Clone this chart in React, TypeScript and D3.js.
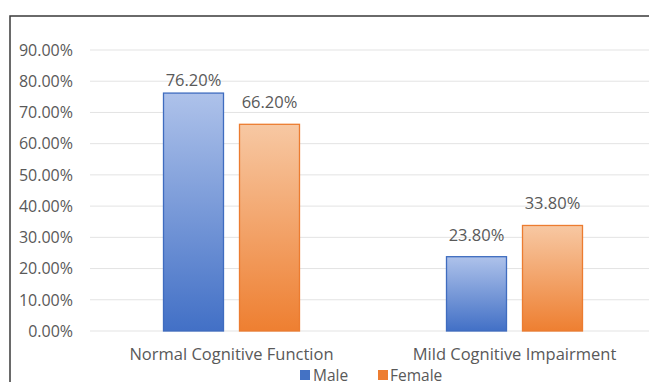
import React from "react";
import * as d3 from "d3";

const categories = ["Normal Cognitive Function", "Mild Cognitive Impairment"];
const seriesNames = ["Male", "Female"];
const maleValues = [76.2, 23.8];
const femaleValues = [66.2, 33.8];
const yTicks = [0, 10, 20, 30, 40, 50, 60, 70, 80, 90];

const W = 649;
const H = 382;
const FONT = "'Open Sans', 'Noto Sans', sans-serif";
const TEXT = "#595959";

export default function App() {
  const x0 = d3.scaleBand<string>().domain(categories).range([90, 656]).paddingInner(0).paddingOuter(0);
  const y = d3.scaleLinear().domain([0, 90]).range([331, 50]);
  const barW = 60;
  const gap = 16;
  const series = [
    { name: seriesNames[0], values: maleValues, grad: "gMale", stroke: "#3f6cbf", legend: "#4472c4" },
    { name: seriesNames[1], values: femaleValues, grad: "gFemale", stroke: "#ec7c30", legend: "#ed7d31" },
  ];
  const fmt = (v: number) => v.toFixed(2) + "%";
  return (
    <svg width={W} height={H} style={{ position: "absolute", left: 0, top: 0, background: "#fff" }}>
      <defs>
        <linearGradient id="gMale" x1="0" y1="0" x2="0" y2="1">
          <stop offset="0" stopColor="#aec2ea" />
          <stop offset="1" stopColor="#4270c6" />
        </linearGradient>
        <linearGradient id="gFemale" x1="0" y1="0" x2="0" y2="1">
          <stop offset="0" stopColor="#f7c8a3" />
          <stop offset="1" stopColor="#ee7f31" />
        </linearGradient>
      </defs>
      <rect x={10} y={16} width={W} height={H} fill="#fff" stroke="#3a3a3a" strokeWidth={1.5} />
      {yTicks.map((t) => (
        <g key={t}>
          <line x1={90} x2={W} y1={y(t)} y2={y(t)} stroke="#e3e3e3" strokeWidth={1} />
          <text x={73} y={y(t)} dy="0.36em" textAnchor="end" fontFamily={FONT} fontSize={16} fill={TEXT}>
            {fmt(t)}
          </text>
        </g>
      ))}
      {categories.map((c, i) => {
        const cx = (x0(c) as number) + x0.bandwidth() / 2;
        return (
          <g key={c}>
            {series.map((s, j) => {
              const bx = j === 0 ? cx - gap / 2 - barW : cx + gap / 2;
              const v = s.values[i];
              const top = y(v);
              const labelY = Math.max(top - 16, 86);
              return (
                <g key={s.name}>
                  <rect x={bx} y={top} width={barW} height={y(0) - top} fill={`url(#${s.grad})`} stroke={s.stroke} strokeWidth={1.3} />
                  <text x={bx + barW / 2} y={labelY} textAnchor="middle" fontFamily={FONT} fontSize={16.5} fill={TEXT}>
                    {fmt(v)}
                  </text>
                </g>
              );
            })}
            <text x={cx} y={359.5} textAnchor="middle" fontFamily={FONT} fontSize={16.5} fill={TEXT}>
              {c}
            </text>
          </g>
        );
      })}
      <g>
        <rect x={300} y={370} width={10} height={10} fill="#4472c4" />
        <text x={313} y={381} fontFamily={FONT} fontSize={15.5} fill={TEXT}>{seriesNames[0]}</text>
        <rect x={378} y={370} width={10} height={10} fill="#ed7d31" />
        <text x={390} y={381} fontFamily={FONT} fontSize={15.5} fill={TEXT}>{seriesNames[1]}</text>
      </g>
    </svg>
  );
}
